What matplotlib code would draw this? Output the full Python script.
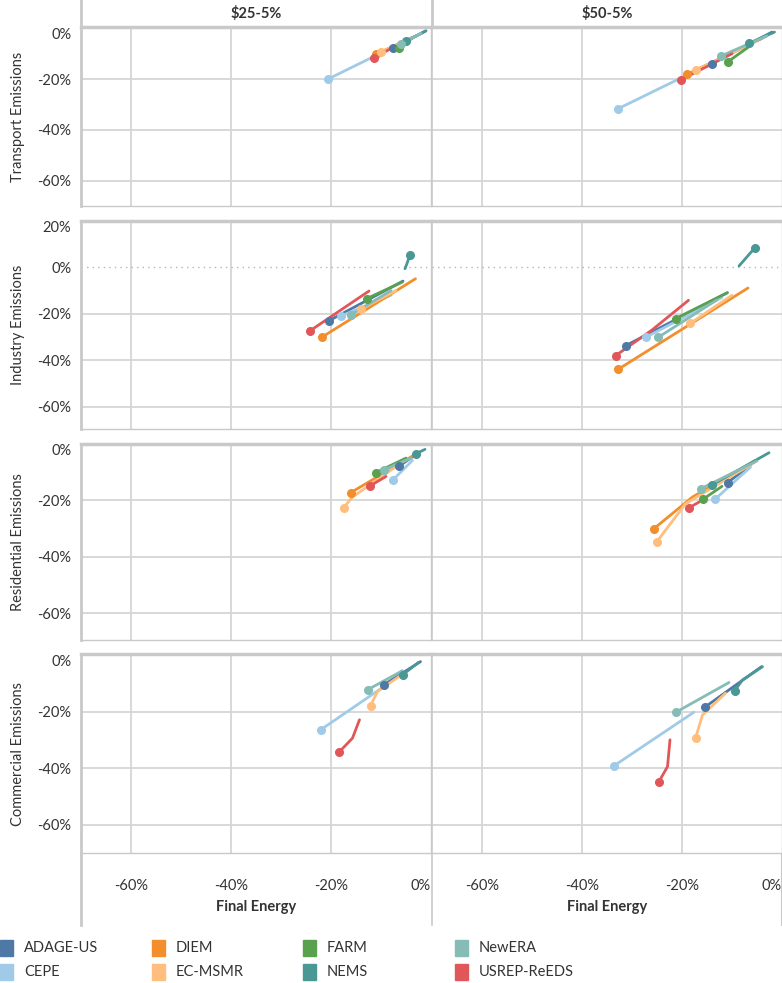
import matplotlib
matplotlib.use("Agg")
import matplotlib.pyplot as plt
from matplotlib.patches import Rectangle

plt.rcParams['font.family'] = ['Lato', 'DejaVu Sans']

W, H = 782, 983

models = ["ADAGE-US", "CEPE", "DIEM", "EC-MSMR", "FARM", "NEMS", "NewERA", "USREP-ReEDS"]
model_colors = ["#4e79a7", "#a0cbe8", "#f28e2b", "#ffbe7d", "#59a14f", "#499894", "#86bcb6", "#e15759"]

scenarios = ["\\$25-5%", "\\$50-5%"]
sectors = ["Transport Emissions", "Industry Emissions", "Residential Emissions", "Commercial Emissions"]

x_ticks = [-60, -40, -20, 0]
x_ticklabels = ["-60%", "-40%", "-20%", "0%"]

# each line: (final energy %, emissions %), last point gets the dot
transport_25 = {
    "ADAGE-US": ([-1.0, -7.7], [-1.0, -7.8]),
    "CEPE": ([-2.0, -20.7], [-2.0, -20.1]),
    "DIEM": ([-3.0, -11.0], [-3.0, -10.2]),
    "EC-MSMR": ([-4.0, -10.0], [-4.0, -9.3]),
    "FARM": ([-3.5, -6.4], [-3.5, -7.6]),
    "NEMS": ([-1.1, -5.0], [-1.1, -5.2]),
    "NewERA": ([-2.0, -6.0], [-2.0, -6.2]),
    "USREP-ReEDS": ([-8.0, -11.5], [-8.0, -11.7]),
}
transport_50 = {
    "ADAGE-US": ([-2.0, -14.1], [-1.5, -13.9]),
    "CEPE": ([-3.0, -32.9], [-3.0, -31.8]),
    "DIEM": ([-4.0, -19.1], [-4.0, -18.2]),
    "EC-MSMR": ([-5.0, -17.3], [-5.0, -16.6]),
    "FARM": ([-6.0, -10.9], [-6.4, -13.3]),
    "NEMS": ([-1.5, -6.6], [-1.5, -5.9]),
    "NewERA": ([-3.0, -12.3], [-3.0, -11.0]),
    "USREP-ReEDS": ([-10.0, -20.3], [-10.0, -20.4]),
}
industry_25 = {
    "ADAGE-US": ([-5.6, -20.5], [-5.9, -23.1]),
    "CEPE": ([-8.0, -18.0], [-12.0, -21.0]),
    "DIEM": ([-3.1, -21.9], [-4.9, -30.2]),
    "EC-MSMR": ([-7.0, -14.0], [-10.0, -18.0]),
    "FARM": ([-5.7, -12.9], [-6.3, -13.5]),
    "NEMS": ([-5.2, -4.7, -4.2], [-0.6, 2.3, 5.5]),
    "NewERA": ([-8.0, -16.1], [-10.0, -20.6]),
    "USREP-ReEDS": ([-12.4, -24.3], [-10.2, -27.5]),
}
industry_50 = {
    "ADAGE-US": ([-10.9, -31.3], [-10.9, -33.8]),
    "CEPE": ([-12.0, -27.3], [-13.0, -30.2]),
    "DIEM": ([-6.8, -32.8], [-8.9, -44.0]),
    "EC-MSMR": ([-10.0, -18.4], [-12.0, -24.2]),
    "FARM": ([-11.0, -21.3], [-11.0, -22.1]),
    "NEMS": ([-8.6, -5.4], [0.6, 8.5]),
    "NewERA": ([-13.0, -24.8], [-14.0, -30.2]),
    "USREP-ReEDS": ([-18.7, -26.0, -33.3], [-14.2, -27.0, -38.1]),
}
residential_25 = {
    "ADAGE-US": ([-2.8, -6.4], [-3.4, -7.9]),
    "CEPE": ([-3.7, -7.7], [-5.8, -12.9]),
    "DIEM": ([-2.4, -16.1], [-2.9, -17.3]),
    "EC-MSMR": ([-5.0, -15.7, -17.5], [-5.5, -18.8, -22.6]),
    "FARM": ([-5.0, -11.1], [-5.0, -10.2]),
    "NEMS": ([-1.2, -3.1], [-1.9, -3.5]),
    "NewERA": ([-4.0, -9.4], [-5.0, -9.1]),
    "USREP-ReEDS": ([-9.0, -12.3], [-11.5, -15.0]),
}
residential_50 = {
    "ADAGE-US": ([-6.3, -10.9], [-7.5, -13.7]),
    "CEPE": ([-6.3, -13.4], [-8.2, -19.6]),
    "DIEM": ([-5.3, -17.9, -25.6], [-5.8, -18.8, -30.0]),
    "EC-MSMR": ([-5.5, -19.3, -25.1], [-6.5, -21.2, -34.8]),
    "FARM": ([-12.0, -15.8], [-15.0, -19.6]),
    "NEMS": ([-2.6, -14.0], [-3.1, -14.5]),
    "NewERA": ([-5.0, -16.3], [-6.0, -15.9]),
    "USREP-ReEDS": ([-16.5, -18.6], [-20.5, -22.6]),
}
commercial_25 = {
    "ADAGE-US": ([-2.1, -9.4], [-2.2, -10.4]),
    "CEPE": ([-9.4, -22.1], [-11.0, -26.4]),
    "EC-MSMR": ([-6.4, -10.7, -12.1], [-7.5, -12.8, -17.8]),
    "NEMS": ([-2.5, -5.7], [-2.5, -6.9]),
    "NewERA": ([-5.7, -12.7], [-5.4, -12.2]),
    "USREP-ReEDS": ([-14.3, -15.7, -18.4], [-22.8, -29.3, -34.3]),
}
commercial_50 = {
    "ADAGE-US": ([-4.1, -15.4], [-4.0, -18.3]),
    "CEPE": ([-17.6, -33.6], [-20.1, -39.1]),
    "EC-MSMR": ([-11.3, -15.9, -17.3], [-13.4, -21.1, -29.3]),
    "NEMS": ([-3.9, -7.9, -9.5], [-4.0, -8.7, -12.6]),
    "NewERA": ([-10.6, -21.3], [-9.6, -20.2]),
    "USREP-ReEDS": ([-22.4, -22.9, -24.6], [-29.9, -39.4, -44.7]),
}

panels = [
    [transport_25, transport_50],
    [industry_25, industry_50],
    [residential_25, residential_50],
    [commercial_25, commercial_50],
]

row_y_ticks = [[0, -20, -40, -60], [20, 0, -20, -40, -60], [0, -20, -40, -60], [0, -20, -40, -60]]
row_ylim = [(-70, 0.5), (-69.7, 19.8), (-69.5, 0), (-70, 0.5)]

# layout in pixels
row_top = [27, 221, 444, 654]
row_bot = [206, 429, 640, 853]
col_left = [81, 432]
col_right = [431, 782]

border = "#c9c9c9"
grid_c = "#d6d6d6"
text_c = "#333333"


def box(x0, y0, x1, y1):
    return [x0 / W, 1 - y1 / H, (x1 - x0) / W, (y1 - y0) / H]


def main():
    fig = plt.figure(figsize=(W / 100, H / 100), dpi=100)

    # header strips
    for c in range(2):
        hx = fig.add_axes(box(col_left[c], 0, col_right[c], row_top[0]))
        hx.set_xticks([])
        hx.set_yticks([])
        for s in hx.spines.values():
            s.set_visible(False)
        hx.spines["left"].set_visible(True)
        hx.spines["left"].set_color(border)
        hx.spines["left"].set_linewidth(2)
        hx.text(0.5, 0.5, scenarios[c], transform=hx.transAxes, ha="center", va="center",
                fontsize=10.5, fontweight="bold", color=text_c)

    for r in range(4):
        for c in range(2):
            ax = fig.add_axes(box(col_left[c], row_top[r], col_right[c], row_bot[r]))
            ax.set_xlim(-70, 0)
            ax.set_ylim(*row_ylim[r])
            ax.set_facecolor("white")

            # gridlines
            for xv in x_ticks[:-1]:
                ax.axvline(xv, color=grid_c, lw=1.3, zorder=1)
            for yv in row_y_ticks[r]:
                if yv == 0:
                    if r == 1:
                        ax.axhline(0, color="#b5b5b5", lw=1.0, ls=(0, (1, 3)), zorder=1)
                    continue
                if yv < row_ylim[r][1] - 1:
                    ax.axhline(yv, color=grid_c, lw=1.3, zorder=1)

            data = panels[r][c]
            for m, col in zip(models, model_colors):
                if m not in data:
                    continue
                xs, ys = data[m]
                ax.plot(xs, ys, color=col, lw=2.0, solid_capstyle="round",
                        zorder=3)
                ax.plot(xs[-1], ys[-1], marker="o", color=col, markersize=5.5,
                        zorder=4)

            for name, s in ax.spines.items():
                s.set_color(border)
                s.set_linewidth(1)
            ax.spines["top"].set_linewidth(2.5)
            ax.spines["left"].set_linewidth(2 if c == 0 else 1.2)

            ax.set_yticks(row_y_ticks[r])
            ax.tick_params(axis="both", length=0, colors=text_c, labelsize=10.5)
            if c == 0:
                ax.set_yticklabels(["%d%%" % v for v in row_y_ticks[r]])
                ax.tick_params(axis="y", pad=7)
                top_lab = ax.get_yticklabels()[0]
                top_lab.set_va("top")
            else:
                ax.set_yticklabels([])

            ax.set_xticks(x_ticks)
            if r == 3:
                ax.set_xticklabels(x_ticklabels)
                ax.tick_params(axis="x", pad=19)
                ax.get_xticklabels()[-1].set_ha("right")
                ax.set_xlabel("Final Energy", fontsize=10.5, fontweight="bold",
                              color=text_c, labelpad=5)
            else:
                ax.set_xticklabels([])

        fig.text(18 / W, 1 - (row_top[r] + row_bot[r]) / 2 / H, sectors[r],
                 rotation=90, ha="center", va="center", fontsize=10.5,
                 color=text_c)

    # x axis area strips
    for c in range(2):
        sx = fig.add_axes(box(col_left[c], row_bot[3], col_right[c], 925))
        sx.patch.set_alpha(0)
        sx.set_xticks([])
        sx.set_yticks([])
        for s in sx.spines.values():
            s.set_visible(False)
        sx.spines["left"].set_visible(True)
        sx.spines["left"].set_color(border)
        sx.spines["left"].set_linewidth(2 if c == 0 else 1.2)
        if c == 1:
            sx.spines["right"].set_visible(True)
            sx.spines["right"].set_color(border)
            sx.spines["right"].set_linewidth(1.5)
        sx.set_zorder(-1)

    # legend
    leg_cols = [0, 152, 303, 455]
    leg_rows = [948, 972]
    for i, (m, col) in enumerate(zip(models, model_colors)):
        lx = leg_cols[i // 2]
        ly = leg_rows[i % 2]
        fig.patches.append(Rectangle((lx / W, 1 - (ly + 8) / H), 13 / W, 16 / H,
                                     transform=fig.transFigure, color=col))
        fig.text((lx + 24) / W, 1 - ly / H, m, ha="left", va="center",
                 fontsize=10.5, color=text_c)

    fig.savefig("out.png", dpi=100)


if __name__ == "__main__":
    main()
